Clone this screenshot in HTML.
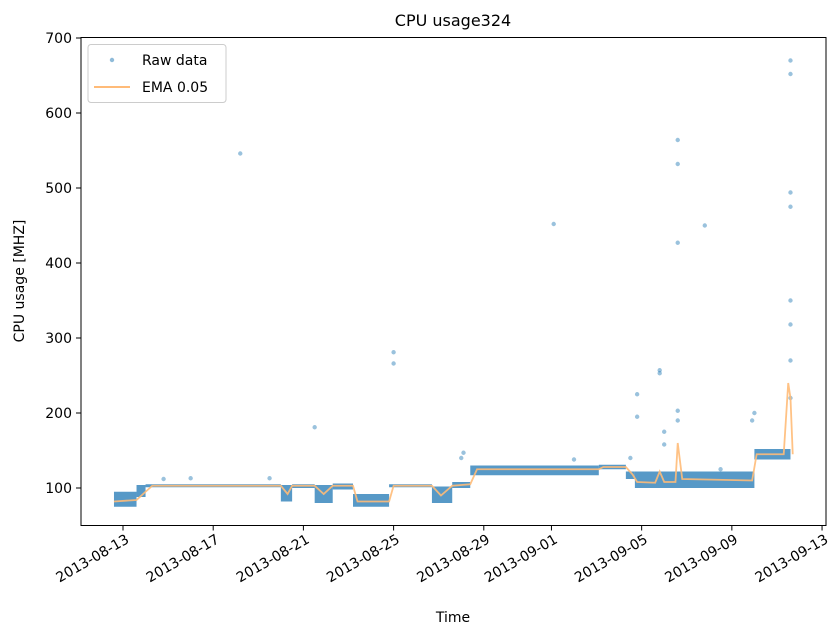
<!DOCTYPE html>
<html><head><meta charset="utf-8"><style>
body{margin:0;background:#fff;font-family:"Liberation Sans","DejaVu Sans",sans-serif}
svg text{font-family:"DejaVu Sans","Liberation Sans",sans-serif;fill:#000}
</style></head><body>
<svg id="chart" width="835" height="638" xmlns="http://www.w3.org/2000/svg">
<rect width="835" height="638" fill="#fff"/>
<g id="plot"></g>
<rect x="81" y="37.5" width="745" height="488" fill="none" stroke="#000" stroke-width="1"/>
<g id="yticks"></g>
<g id="xticks"></g>
<text x="453" y="26" font-size="16" text-anchor="middle">CPU usage324</text>
<text transform="translate(24,281) rotate(-90)" font-size="14" text-anchor="middle">CPU usage [MHZ]</text>
<text x="453" y="622" font-size="14" text-anchor="middle">Time</text>
<g>
<rect x="88" y="44.5" width="138" height="58" rx="3" fill="#fff" fill-opacity="0.8" stroke="#ccc"/>
<circle cx="112" cy="60" r="2.2" fill="#1f77b4" fill-opacity="0.5"/>
<text x="142" y="65" font-size="14">Raw data</text>
<line x1="94" y1="87" x2="130" y2="87" stroke="#ffbb78" stroke-width="2"/>
<text x="142" y="92" font-size="14">EMA 0.05</text>
</g>
</svg>
<script>
const yTicks=[100,200,300,400,500,600,700];
const xTickLabels=["2013-08-13","2013-08-17","2013-08-21","2013-08-25","2013-08-29","2013-09-01","2013-09-05","2013-09-09","2013-09-13"];
const xTickDays=[0,4,8,12,16,19,23,27,31];
// dense band segments: start day, end day, low, high (days since 2013-08-13)
const segStart=[-0.4,0.6,1.0,7.0,7.5,8.5,9.3,10.2,11.8,13.7,14.6,15.4,21.1,22.3,22.7,28.0];
const segEnd=[0.6,1.0,7.0,7.5,8.5,9.3,10.2,11.8,13.7,14.6,15.4,21.1,22.3,22.7,28.0,29.6];
const segLow=[75,88,101,82,100,80,98,75,101,80,100,117,125,112,100,138];
const segHigh=[95,104,105,104,105,104,106,92,105,102,108,130,131,122,122,152];
// scattered raw points
const rawT=[5.2,8.5,12.0,12.0,19.1,22.8,22.8,23.8,23.8,24.0,24.6,24.6,24.6,24.6,24.6,25.8,29.6,29.6,29.6,29.6,29.6,29.6,29.6,29.6,15.1,15.0,27.9,28.0,22.5,20.0,1.8,3.0,6.5,24.0,26.5];
const rawV=[546,181,281,266,452,225,195,257,253,158,564,532,427,203,190,450,670,652,494,475,350,318,270,220,147,140,190,200,140,138,112,113,113,175,125];
const emaT=[-0.4,0.6,1.0,1.3,7.0,7.3,7.5,8.5,8.9,9.3,10.2,10.4,11.8,12.0,13.7,14.1,14.6,15.4,15.7,21.1,21.3,22.3,22.6,22.8,23.6,23.8,24.0,24.5,24.6,24.8,27.9,28.1,29.3,29.5,29.6,29.7];
const emaV=[82,84,95,103,103,92,103,103,92,103,103,82,82,103,103,90,103,105,125,125,128,128,118,108,107,122,108,108,160,112,110,145,145,240,220,145];
const X=d=>123+d*22.55, Y=v=>488-(v-100)*0.75;
const ns="http://www.w3.org/2000/svg";
const plot=document.getElementById('plot');
function mk(t,a,p){const e=document.createElementNS(ns,t);for(const k in a)e.setAttribute(k,a[k]);p.appendChild(e);return e;}
segStart.forEach((s,i)=>{
 const r=mk('rect',{x:X(s),y:Y(segHigh[i]),width:X(segEnd[i])-X(s),height:Y(segLow[i])-Y(segHigh[i]),fill:'#1f77b4','fill-opacity':0.75},plot);
 
 
});
rawT.forEach((t,i)=>{
 const c=mk('circle',{cx:X(t),cy:Y(rawV[i]),r:2.2,fill:'#1f77b4','fill-opacity':0.45},plot);
 
 
});
const pl=mk('polyline',{points:emaT.map((t,i)=>X(t)+','+Y(emaV[i])).join(' '),fill:'none',stroke:'#ffbb78','stroke-width':1.8,'stroke-opacity':0.9},plot);


const yg=document.getElementById('yticks');
yTicks.forEach(v=>{
 mk('line',{x1:76,x2:81,y1:Y(v),y2:Y(v),stroke:'#000'},yg);
 const t=mk('text',{x:72,y:Y(v)+5,'font-size':14,'text-anchor':'end'},yg);
 t.textContent=v;
 
 
});
const xg=document.getElementById('xticks');
xTickDays.forEach((d,i)=>{
 const x=X(d);
 mk('line',{x1:x,x2:x,y1:525.5,y2:530.5,stroke:'#000'},xg);
 const t=mk('text',{transform:`translate(${x+7},${542}) rotate(-30)`,'font-size':14,'text-anchor':'end'},xg);
 t.textContent=xTickLabels[i];
 
 
});
</script>
</body></html>
